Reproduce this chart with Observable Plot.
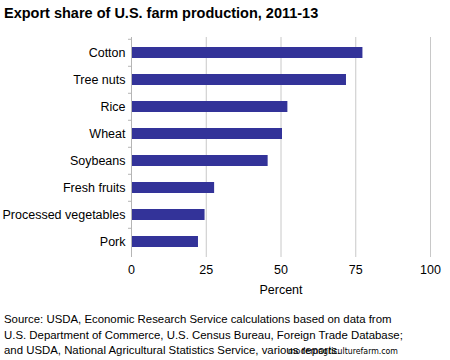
<!DOCTYPE html>
<html><head><meta charset="utf-8">
<script src="https://cdn.jsdelivr.net/npm/d3@7"></script>
<script src="https://cdn.jsdelivr.net/npm/@observablehq/plot@0.6"></script>
<style>
body{margin:0;background:#fff;font-family:"Liberation Sans",Arial,sans-serif;width:450px;height:360px;overflow:hidden;position:relative}
#title{position:absolute;left:4px;top:5px;font-weight:bold;font-size:14.5px;color:#000;white-space:nowrap}
#chart{position:absolute;left:0;top:26px}
#caption{position:absolute;left:4px;top:312px;font-size:11.4px;line-height:15.5px;color:#000;white-space:nowrap}
#wm{position:absolute;left:288px;top:346px;font-family:"DejaVu Sans Condensed","DejaVu Sans",sans-serif;font-stretch:condensed;font-size:8.7px;color:#000;white-space:nowrap}
</style></head>
<body>
<div id="title">Export share of U.S. farm production, 2011-13</div>
<div id="chart"></div>
<div id="caption">Source: USDA, Economic Research Service calculations based on data from<br>U.S. Department of Commerce, U.S. Census Bureau, Foreign Trade Database;<br>and USDA, National Agricultural Statistics Service, various reports.</div>
<div id="wm">modernagriculturefarm.com</div>
<script>
const categories = ["Cotton","Tree nuts","Rice","Wheat","Soybeans","Fresh fruits","Processed vegetables","Pork"];
const values = [77.4, 71.9, 52.3, 50.5, 45.7, 27.8, 24.6, 22.4];
const xTicks = [0, 25, 50, 75, 100];

const data = categories.map((c, i) => ({category: c, value: values[i]}));
const step = 219.5 / categories.length;

const chart = Plot.plot({
  width: 450,
  height: 275,
  marginLeft: 131,
  marginRight: 20,
  marginTop: 11,
  marginBottom: 44,
  style: {fontFamily: "'Liberation Sans', Arial, sans-serif", fontSize: "12.5px", color: "#000", background: "#fff"},
  x: {domain: [0, 100], ticks: xTicks, label: "Percent"},
  y: {domain: categories, paddingInner: 0.6, paddingOuter: 0.3, label: null},
  marks: [
    Plot.gridX(xTicks.slice(1), {stroke: "#c8c8c8", strokeOpacity: 1}),
    Plot.barX(data, {y: "category", x: "value", fill: "#333399"}),
    Plot.axisY({tickSize: 0, tickPadding: 6, fill: "#000", fontSize: 12.5}),
    Plot.axisY(categories, {tickSize: 3, text: null, dy: -step / 2, stroke: "#b5b5b5"}),
    Plot.ruleX([0], {stroke: "#b5b5b5"}),
    Plot.ruleY([0], {stroke: "#b5b5b5"}),
    Plot.axisX({ticks: xTicks, tickSize: 0, tickPadding: 8, label: "Percent", labelAnchor: "center", labelArrow: "none", labelOffset: 36, fontSize: 12.5})
  ]
});
document.getElementById("chart").appendChild(chart);
</script>
</body></html>
